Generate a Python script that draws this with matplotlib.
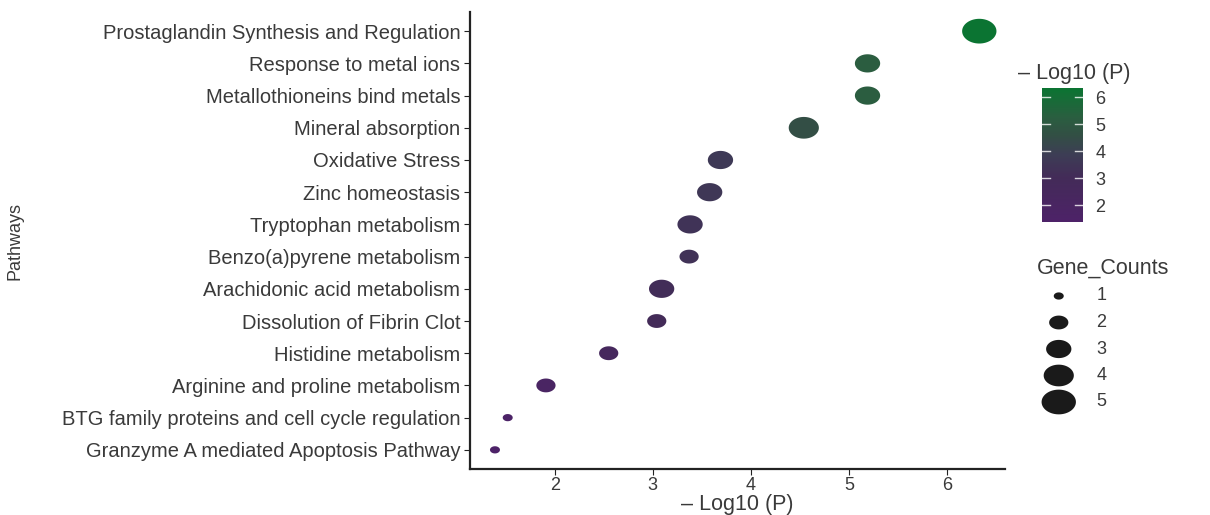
"""Pathway enrichment bubble plot: -log10(P) vs pathway, sized by gene counts"""

import matplotlib.pyplot as plt
import numpy as np
from matplotlib.colors import LinearSegmentedColormap, Normalize
from matplotlib.path import Path
from matplotlib.cm import ScalarMappable

plt.rcParams['font.family'] = ['Liberation Sans', 'DejaVu Sans']

# Data (top to bottom as shown)
pathways = [
    'Prostaglandin Synthesis and Regulation',
    'Response to metal ions',
    'Metallothioneins bind metals',
    'Mineral absorption',
    'Oxidative Stress',
    'Zinc homeostasis',
    'Tryptophan metabolism',
    'Benzo(a)pyrene metabolism',
    'Arachidonic acid metabolism',
    'Dissolution of Fibrin Clot',
    'Histidine metabolism',
    'Arginine and proline metabolism',
    'BTG family proteins and cell cycle regulation',
    'Granzyme A mediated Apoptosis Pathway',
]
neg_log_p = [6.33, 5.19, 5.19, 4.54, 3.69, 3.58, 3.38, 3.37, 3.09, 3.04, 2.55, 1.91, 1.52, 1.39]
gene_counts = [5, 3, 3, 4, 3, 3, 3, 2, 3, 2, 2, 2, 1, 1]
legend_counts = [1, 2, 3, 4, 5]
cbar_ticks = [2, 3, 4, 5, 6]

TEXT = '#3a3a3a'

# purple -> slate -> green, like the source figure
cmap = LinearSegmentedColormap.from_list(
    'pg',
    [(0.0, '#4d2268'), (0.33, '#432b58'), (0.5, '#3d3d55'),
     (0.65, '#324f44'), (0.78, '#2a5e40'), (1.0, '#0b7432')],
)
norm = Normalize(vmin=min(neg_log_p), vmax=max(neg_log_p))

# ellipse marker (source image is stretched horizontally)
theta = np.linspace(0, 2 * np.pi, 60)
ellipse = Path(np.column_stack([np.cos(theta), 0.72 * np.sin(theta)]), closed=True)


def count_to_area(c):
    # width in px grows with sqrt of count (area scale), converted to pt^2
    d_px = np.sqrt(100 + 270 * (np.asarray(c) - 1))
    return (d_px * 0.72) ** 2


fig = plt.figure(figsize=(12.1, 5.15), dpi=100)
ax = fig.add_axes([0.3884, 0.089, 0.442, 0.888])

y = np.arange(len(pathways))[::-1]
ax.scatter(neg_log_p, y, s=count_to_area(gene_counts), c=neg_log_p, cmap=cmap, norm=norm,
           marker=ellipse, linewidths=0, zorder=3)

ax.set_yticks(y)
ax.set_yticklabels(pathways, fontsize=14.5, color=TEXT)
ax.set_ylim(-0.6, len(pathways) - 0.4)
ax.set_xlim(1.135, 6.59)
ax.set_xticks([2, 3, 4, 5, 6])
ax.tick_params(axis='x', labelsize=13, labelcolor=TEXT, length=4, color='#222222', pad=2)
ax.tick_params(axis='y', length=4, color='#222222', pad=3)
ax.set_xlabel('– Log10 (P)', fontsize=15.5, color=TEXT, labelpad=0)
ax.set_ylabel('Pathways', fontsize=13, color=TEXT)
ax.yaxis.set_label_coords(-0.835, 0.5)
for side in ['top', 'right']:
    ax.spines[side].set_visible(False)
for side in ['left', 'bottom']:
    ax.spines[side].set_linewidth(1.6)
    ax.spines[side].set_color('#222222')

# colorbar
cax = fig.add_axes([0.861, 0.569, 0.034, 0.26])
cb = fig.colorbar(ScalarMappable(norm=norm, cmap=cmap), cax=cax, ticks=cbar_ticks)
cb.outline.set_visible(False)
cb.ax.tick_params(labelsize=13, labelcolor=TEXT, length=0, pad=9)
for t in cbar_ticks:
    cax.plot([0, 0.2], [t, t], color='white', lw=1, alpha=0.8)
    cax.plot([0.8, 1.0], [t, t], color='white', lw=1, alpha=0.8)
fig.text(0.841, 0.858, '– Log10 (P)', fontsize=15.5, color=TEXT, va='center')

# size legend
fig.text(0.857, 0.48, 'Gene_Counts', fontsize=15.5, color=TEXT, va='center')
for i, c in enumerate(legend_counts):
    ly = 1 - (296 + 26.5 * i) / 515
    fig.text(0.906, ly, str(c), fontsize=13, color=TEXT, va='center')
lax = fig.add_axes([0.855, 0.19, 0.04, 0.26])
lax.set_xlim(0, 1)
lax.set_ylim(0.19 * 515, 0.45 * 515)
lax.axis('off')
ly_px = [515 - (296 + 26.5 * i) for i in range(len(legend_counts))]
lax.scatter([0.5] * len(legend_counts), ly_px, s=count_to_area(legend_counts), c='#1a1a1a',
            marker=ellipse, linewidths=0)

fig.savefig('out.png', dpi=100)
